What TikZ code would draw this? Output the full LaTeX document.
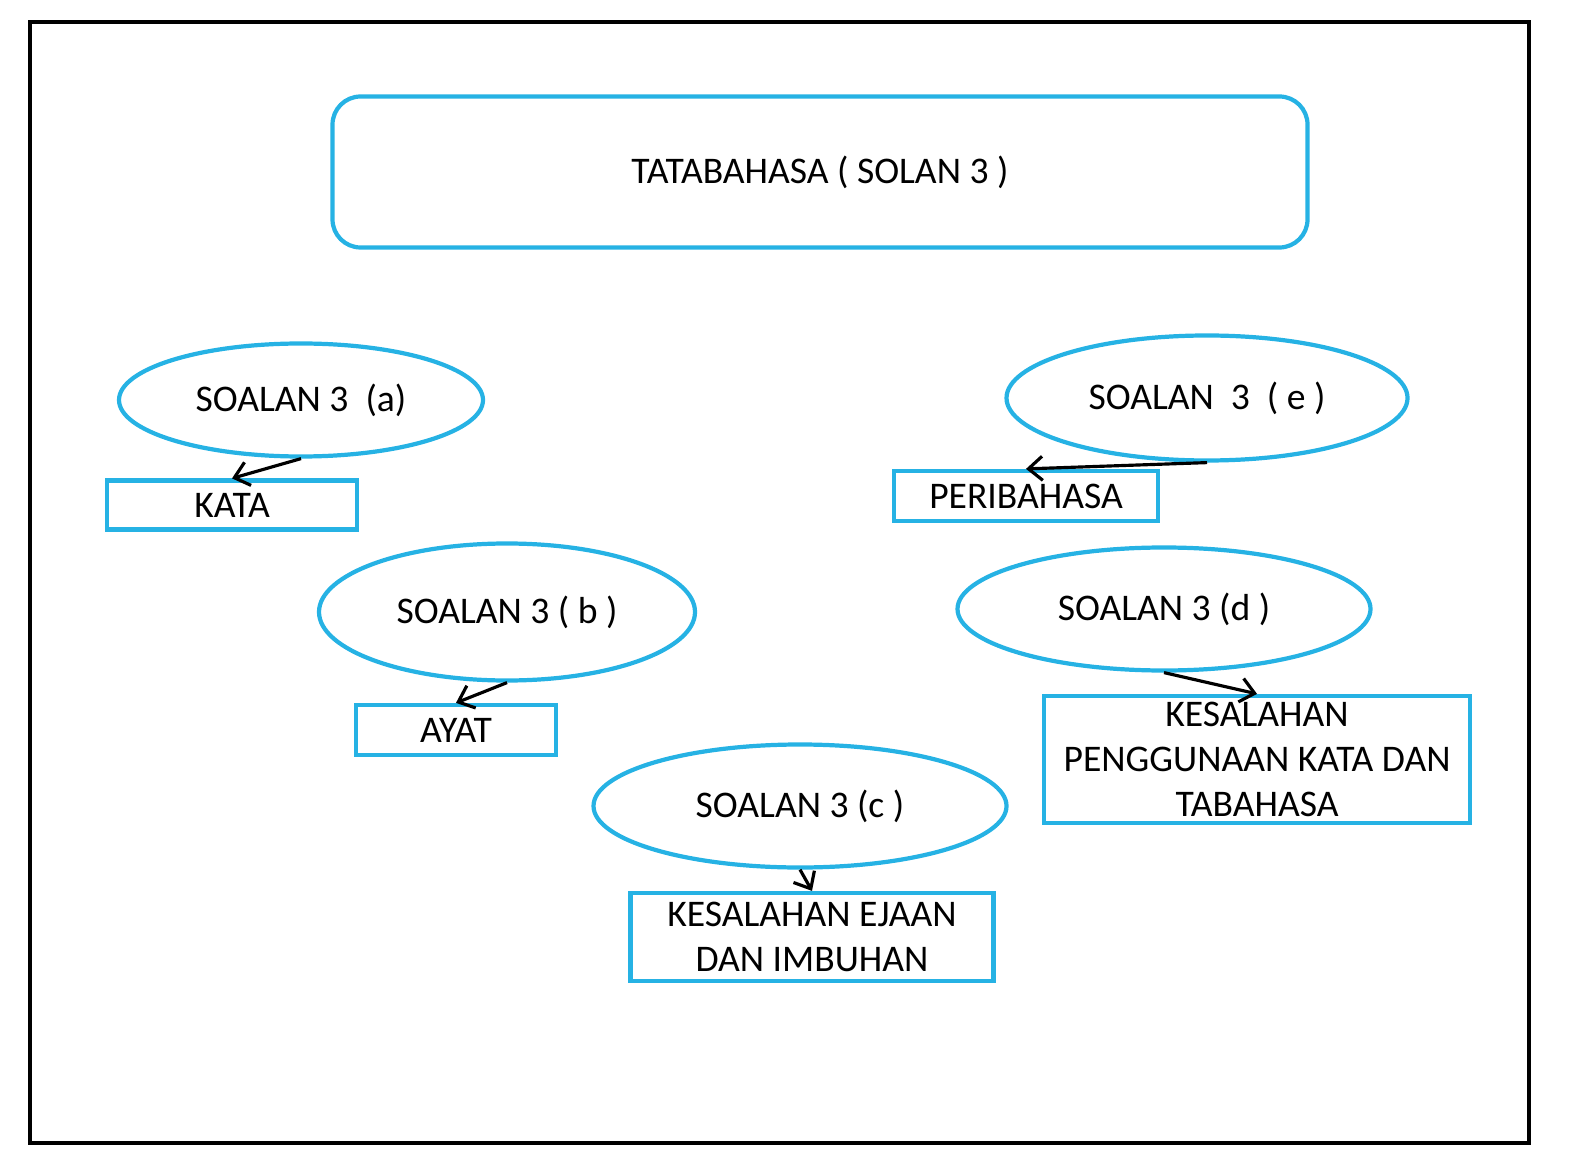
\documentclass[tikz,border=0pt]{standalone}
\usepackage{fontspec}
\setmainfont{Carlito}
\usetikzlibrary{arrows,arrows.meta,shapes.geometric,positioning}
\definecolor{soalblue}{RGB}{38,178,228}

\tikzset{
  soalan/.style={draw=soalblue, line width=1.2pt, ellipse, inner sep=0pt},
  jawapan/.style={draw=soalblue, line width=1.2pt, rectangle, inner sep=0pt, align=center},
  tunjuk/.style={-{Straight Barb[length=1.4mm,width=2.4mm]}, line width=0.9pt, black}
}

\begin{document}
\begin{tikzpicture}[font=\fontsize{10.7}{12.8}\selectfont]
  \useasboundingbox (0,0) rectangle (15.77,-11.67);
  % Frame
  \draw[line width=1.3pt] (0.30,-0.22) rectangle (15.29,-11.43);

  % Title
  \node[draw=soalblue, line width=1.2pt, rounded corners=8pt, minimum width=9.75cm, minimum height=1.51cm] (tajuk) at (8.20,-1.72) {TATABAHASA ( SOLAN 3 )};

  % Soalan 3 (a)
  \node[soalan, minimum width=3.64cm, minimum height=1.13cm] (sa) at (3.01,-4.00) {SOALAN 3~~(a)};
  \node[jawapan, minimum width=2.50cm, minimum height=0.49cm] (kata) at (2.32,-5.05) {KATA};

  % Soalan 3 (b)
  \node[soalan, minimum width=3.76cm, minimum height=1.37cm] (sb) at (5.07,-6.12) {SOALAN 3 ( b )};
  \node[jawapan, minimum width=2.00cm, minimum height=0.50cm] (ayat) at (4.56,-7.30) {AYAT};

  % Soalan 3 (c)
  \node[soalan, minimum width=4.13cm, minimum height=1.23cm] (sc) at (8.00,-8.06) {SOALAN 3 (c )};
  \node[jawapan, minimum width=3.63cm, minimum height=0.88cm] (ejaan) at (8.12,-9.37) {KESALAHAN EJAAN\\DAN IMBUHAN};

  % Soalan 3 (d)
  \node[soalan, minimum width=4.13cm, minimum height=1.23cm] (sd) at (11.64,-6.09) {SOALAN 3 (d )};
  \node[jawapan, minimum width=4.26cm, minimum height=1.27cm] (guna) at (12.57,-7.595) {KESALAHAN\\PENGGUNAAN KATA DAN\\TABAHASA};

  % Soalan 3 (e)
  \node[soalan, minimum width=4.01cm, minimum height=1.25cm] (se) at (12.07,-3.98) {SOALAN~~3~~( e )};
  \node[jawapan, minimum width=2.64cm, minimum height=0.50cm] (peri) at (10.26,-4.96) {PERIBAHASA};

  % Arrows
  \draw[tunjuk] (sa.south) -- (kata.north);
  \draw[tunjuk] (sb.south) -- (ayat.north);
  \draw[tunjuk] (sc.south) -- (ejaan.north);
  \draw[tunjuk] (sd.south) -- (guna.north);
  \draw[tunjuk] (se.south) -- (peri.north);
\end{tikzpicture}
\end{document}
